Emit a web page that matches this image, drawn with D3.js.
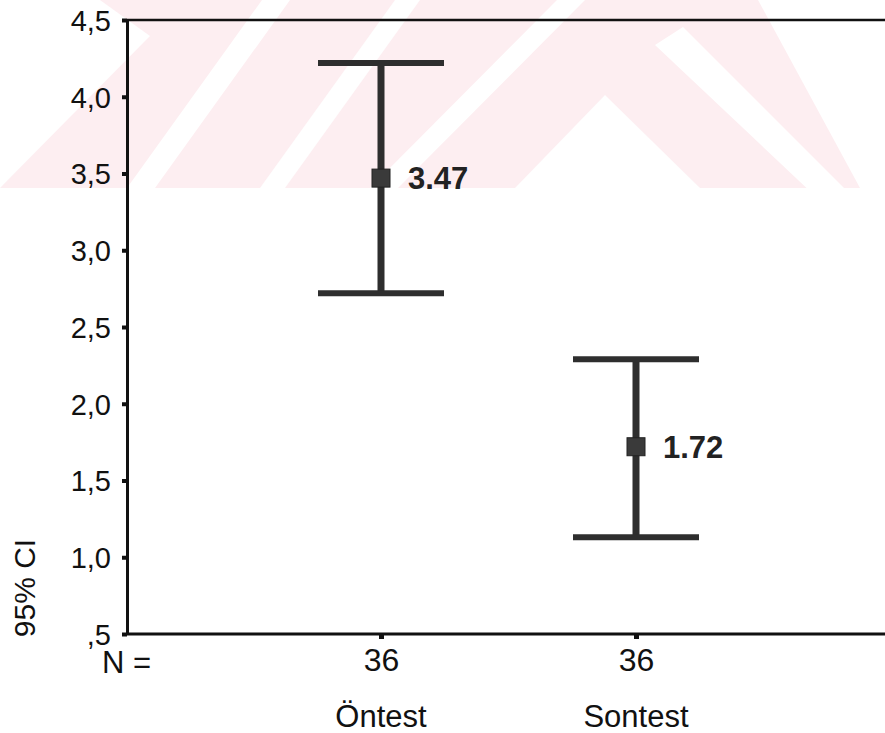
<!DOCTYPE html>
<html>
<head>
<meta charset="utf-8">
<script src="https://cdn.jsdelivr.net/npm/d3@7"></script>
<style>
  body { margin: 0; background: #fff; }
  text { font-family: "Liberation Sans", Arial, sans-serif; fill: #111; }
</style>
</head>
<body>
<div id="chart"></div>
<script>
// data
var groups = ["Öntest", "Sontest"];
var nValues = [36, 36];
var means = [3.47, 1.72];
var upperCI = [4.22, 2.29];
var lowerCI = [2.72, 1.13];
var yTicks = [0.5, 1.0, 1.5, 2.0, 2.5, 3.0, 3.5, 4.0, 4.5];
var yTickLabels = [",5", "1,0", "1,5", "2,0", "2,5", "3,0", "3,5", "4,0", "4,5"];

var svg_width = 885;
var svg_height = 733;

var margin = {
    top: 20,
    bottom: 99,
    left: 127,
    right: 0
}

var svg = d3.select("#chart")
    .append("svg")
    .attr("width", svg_width)
    .attr("height", svg_height);

// faint pink watermark band at the top of the scan
var defs = svg.append("defs");
defs.append("clipPath").attr("id", "wm")
    .append("rect").attr("x", 0).attr("y", 0).attr("width", svg_width).attr("height", 188);

var wm = svg.append("g").attr("clip-path", "url(#wm)");
wm.append("rect")
    .attr("width", svg_width).attr("height", 188)
    .attr("fill", "#fdeef1");
var holes = [
    [[0,0],[100,0],[150,36],[0,188]],
    [[262,0],[290,0],[155,188],[127,188]],
    [[395,0],[420,0],[285,188],[260,188]],
    [[557,0],[585,0],[398,188],[370,188]],
    [[605,95],[515,188],[700,188]],
    [[655,45],[683,27],[885,229],[885,262]],
    [[758,0],[885,0],[885,188],[860,188]]
];
wm.selectAll("polygon")
    .data(holes)
    .enter()
    .append("polygon")
    .attr("points", d => d.map(p => p.join(",")).join(" "))
    .attr("fill", "#fff");

var height = svg_height - margin.top - margin.bottom;

var x_scale = d3.scaleLinear()
    .domain([0, 3])
    .range([margin.left - 1, svg_width + 6]);

var y_scale = d3.scaleLinear()
    .domain([0.5, 4.5])
    .range([margin.top + height, margin.top]);

// left axis
var left_axis = d3.axisLeft(y_scale)
    .tickValues(yTicks)
    .tickFormat((d, i) => yTickLabels[i])
    .tickSizeInner(5)
    .tickSizeOuter(0)
    .tickPadding(11);

var yAxis = svg.append("g")
    .attr("transform", `translate(${margin.left},0)`)
    .call(left_axis);
yAxis.select(".domain").attr("stroke", "#111").attr("stroke-width", 3);
yAxis.selectAll(".tick line").attr("stroke", "#111").attr("stroke-width", 4);
yAxis.selectAll(".tick text")
    .style("font-size", "29px")
    .attr("dy", "0.36em");

// bottom axis with N counts under the ticks
var bottom_axis = d3.axisBottom(x_scale)
    .tickValues([1, 2])
    .tickFormat((d, i) => nValues[i])
    .tickSizeInner(5)
    .tickSizeOuter(0)
    .tickPadding(9);

var xAxis = svg.append("g")
    .attr("transform", `translate(0,${y_scale(0.5)})`)
    .call(bottom_axis);
xAxis.select(".domain")
    .attr("d", `M${margin.left},0H${svg_width}`)
    .attr("stroke", "#111").attr("stroke-width", 3);
xAxis.selectAll(".tick line").attr("stroke", "#111").attr("stroke-width", 5);
xAxis.selectAll(".tick text")
    .style("font-size", "32px")
    .attr("dy", "0.71em");

// top frame line
svg.append("line")
    .attr("x1", margin.left).attr("x2", svg_width)
    .attr("y1", y_scale(4.5)).attr("y2", y_scale(4.5))
    .attr("stroke", "#111").attr("stroke-width", 2.5);

// group names
svg.selectAll(".group-label")
    .data(groups)
    .enter()
    .append("text")
    .attr("class", "group-label")
    .attr("x", (d, i) => x_scale(i + 1))
    .attr("y", 727)
    .attr("text-anchor", "middle")
    .style("font-size", "31px")
    .text(d => d);

svg.append("text")
    .attr("x", 102)
    .attr("y", 673)
    .style("font-size", "31px")
    .text("N =");

svg.append("text")
    .attr("transform", "translate(35,588) rotate(-90)")
    .attr("text-anchor", "middle")
    .style("font-size", "30px")
    .text("95% CI");

// error bars
var bars = svg.selectAll(".ci")
    .data(groups)
    .enter()
    .append("g")
    .attr("class", "ci");

var capHalf = 63;
var barColor = "#2e2e2e";

bars.append("line")
    .attr("x1", (d, i) => x_scale(i + 1))
    .attr("x2", (d, i) => x_scale(i + 1))
    .attr("y1", (d, i) => y_scale(upperCI[i]))
    .attr("y2", (d, i) => y_scale(lowerCI[i]))
    .attr("stroke", barColor)
    .attr("stroke-width", 7);

bars.append("line")
    .attr("x1", (d, i) => x_scale(i + 1) - capHalf)
    .attr("x2", (d, i) => x_scale(i + 1) + capHalf)
    .attr("y1", (d, i) => y_scale(upperCI[i]))
    .attr("y2", (d, i) => y_scale(upperCI[i]))
    .attr("stroke", barColor)
    .attr("stroke-width", 6);

bars.append("line")
    .attr("x1", (d, i) => x_scale(i + 1) - capHalf)
    .attr("x2", (d, i) => x_scale(i + 1) + capHalf)
    .attr("y1", (d, i) => y_scale(lowerCI[i]))
    .attr("y2", (d, i) => y_scale(lowerCI[i]))
    .attr("stroke", barColor)
    .attr("stroke-width", 6);

bars.append("rect")
    .attr("x", (d, i) => x_scale(i + 1) - 9)
    .attr("y", (d, i) => y_scale(means[i]) - 9)
    .attr("width", 18)
    .attr("height", 18)
    .attr("fill", "#3a3a3a")
    .attr("stroke", "#222")
    .attr("stroke-width", 1);

bars.append("text")
    .attr("x", (d, i) => x_scale(i + 1) + 27)
    .attr("y", (d, i) => y_scale(means[i]) + 11)
    .style("font-size", "31px")
    .style("font-weight", "bold")
    .style("fill", "#222")
    .text((d, i) => d3.format(".2f")(means[i]));
</script>
</body>
</html>
